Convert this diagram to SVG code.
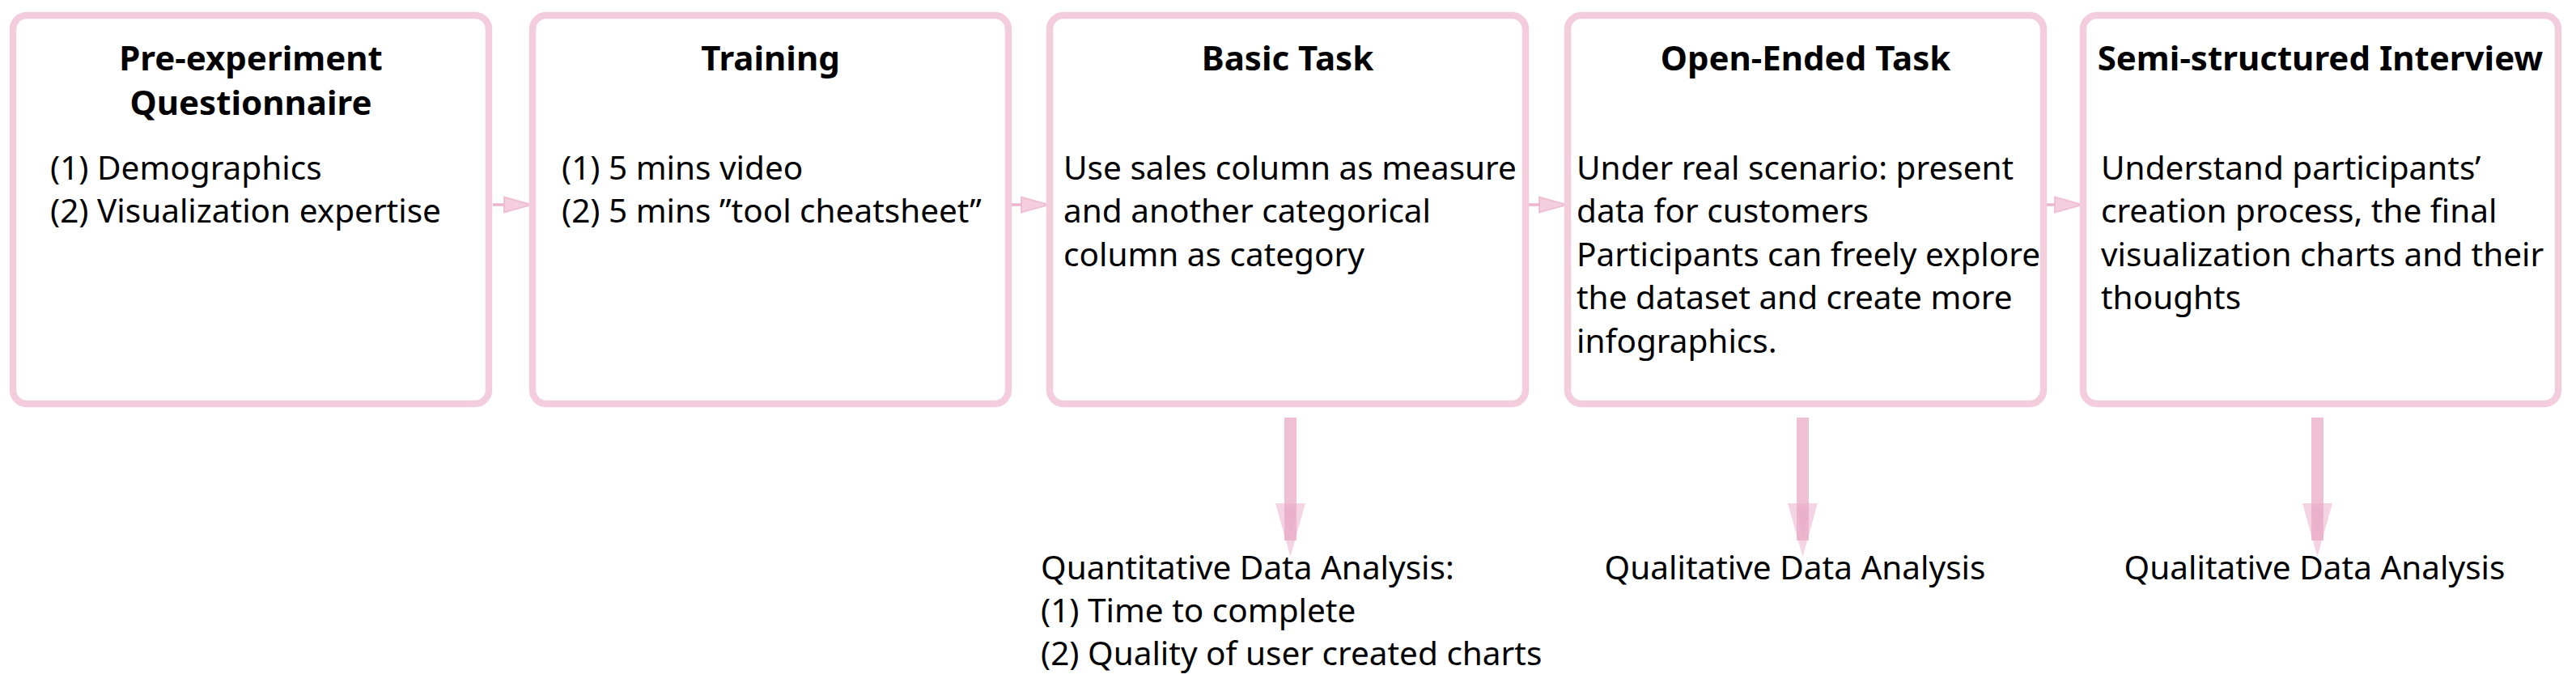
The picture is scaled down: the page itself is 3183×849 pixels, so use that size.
<svg xmlns="http://www.w3.org/2000/svg" width="3183" height="849" viewBox="0 0 3183 849">
<defs>
<style>
.box{fill:#ffffff;stroke:#F3CDDC;stroke-width:8.5}
.title{font-family:"Noto Sans","Open Sans","Liberation Sans",sans-serif;font-weight:700;font-size:42px;fill:#000;text-anchor:middle}
.body{font-family:"Noto Sans","Open Sans","Liberation Sans",sans-serif;font-size:40.5px;fill:#000}
.mid{text-anchor:middle}
.hline{stroke:#EDB6CE;stroke-width:3.5}
.hhead{fill:#F3CEDD;stroke:#EDB6CE;stroke-width:2;stroke-opacity:0.8}
.shaft{fill:#E9A9C6;opacity:0.75}
.vhead{fill:#E9A9C6;opacity:0.5}
.vinner{fill:#E9A9C6;opacity:0.25}
</style>
</defs>
<rect width="3183" height="849" fill="#ffffff"/>
<g id="connectors">
<line class="hline" x1="609" y1="253" x2="652" y2="253"/>
<polygon class="hhead" points="623,243.5 623,262.5 657,253"/>
<line class="hline" x1="1250" y1="253" x2="1291" y2="253"/>
<polygon class="hhead" points="1262,243.5 1262,262.5 1296,253"/>
<line class="hline" x1="1889" y1="253" x2="1931" y2="253"/>
<polygon class="hhead" points="1902,243.5 1902,262.5 1936,253"/>
<line class="hline" x1="2529" y1="253" x2="2568" y2="253"/>
<polygon class="hhead" points="2539,243.5 2539,262.5 2573,253"/>
<rect class="shaft" x="1587" y="516" width="15" height="152"/>
<polygon class="vhead" points="1576,622 1613,622 1594.5,688"/>
<polygon class="vinner" points="1586,629 1603,629 1594.5,662"/>
<rect class="shaft" x="2220" y="516" width="15" height="152"/>
<polygon class="vhead" points="2209,622 2246,622 2227.5,688"/>
<polygon class="vinner" points="2219,629 2236,629 2227.5,662"/>
<rect class="shaft" x="2856" y="516" width="15" height="152"/>
<polygon class="vhead" points="2845,622 2882,622 2863.5,688"/>
<polygon class="vinner" points="2855,629 2872,629 2863.5,662"/>
</g>
<g id="node-pre-experiment">
<rect class="box" x="16" y="19" width="588" height="480" rx="17"/>
<text class="title" x="310" y="87">Pre-experiment</text>
<text class="title" x="310" y="142">Questionnaire</text>
<text class="body" x="62" y="222">(1) Demographics</text>
<text class="body" x="62" y="275">(2) Visualization expertise</text>
</g>
<g id="node-training">
<rect class="box" x="658" y="19" width="588" height="480" rx="17"/>
<text class="title" x="952" y="87">Training</text>
<text class="body" x="694" y="222">(1) 5 mins video</text>
<text class="body" x="694" y="275">(2) 5 mins ”tool cheatsheet”</text>
</g>
<g id="node-basic-task">
<rect class="box" x="1297" y="19" width="588" height="480" rx="17"/>
<text class="title" x="1591" y="87">Basic Task</text>
<text class="body" x="1314" y="222">Use sales column as measure</text>
<text class="body" x="1314" y="275">and another categorical</text>
<text class="body" x="1314" y="329">column as category</text>
</g>
<g id="node-open-ended-task">
<rect class="box" x="1937" y="19" width="588" height="480" rx="17"/>
<text class="title" x="2231" y="87">Open-Ended Task</text>
<text class="body" x="1948" y="222">Under real scenario: present</text>
<text class="body" x="1948" y="275">data for customers</text>
<text class="body" x="1948" y="329">Participants can freely explore</text>
<text class="body" x="1948" y="382">the dataset and create more</text>
<text class="body" x="1948" y="436">infographics.</text>
</g>
<g id="node-interview">
<rect class="box" x="2574" y="19" width="587" height="480" rx="17"/>
<text class="title" x="2867" y="87">Semi-structured Interview</text>
<text class="body" x="2596" y="222">Understand participants’</text>
<text class="body" x="2596" y="275">creation process, the final</text>
<text class="body" x="2596" y="329">visualization charts and their</text>
<text class="body" x="2596" y="382">thoughts</text>
</g>
<g id="node-quantitative">
<text class="body" x="1286" y="716">Quantitative Data Analysis:</text>
<text class="body" x="1286" y="769">(1) Time to complete</text>
<text class="body" x="1286" y="822">(2) Quality of user created charts</text>
</g>
<g id="node-qualitative-1">
<text class="body mid" x="2218" y="716">Qualitative Data Analysis</text>
</g>
<g id="node-qualitative-2">
<text class="body mid" x="2860" y="716">Qualitative Data Analysis</text>
</g>
</svg>
